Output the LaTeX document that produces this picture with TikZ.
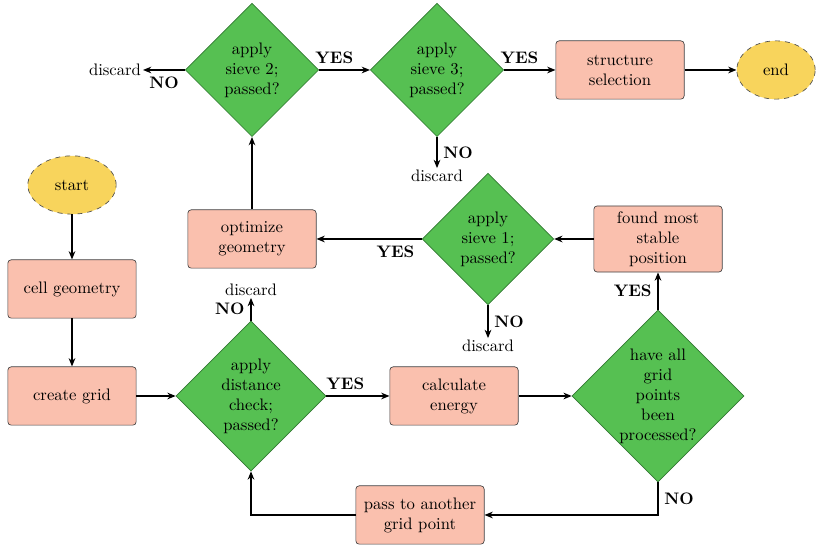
\documentclass[tikz,border=0pt]{standalone}
\usetikzlibrary{shapes.geometric,arrows.meta}
\definecolor{decgreen}{RGB}{86,192,82}
\definecolor{decedge}{RGB}{50,120,50}
\definecolor{procpink}{RGB}{250,192,174}
\definecolor{termyellow}{RGB}{248,212,92}
\begin{document}
\begin{tikzpicture}[x=0.6pt,y=-0.6pt,
  dec/.style={diamond, draw=decedge, fill=decgreen, align=center, inner sep=0pt, minimum width=#1, minimum height=#1},
  proc/.style={rectangle, rounded corners=2pt, draw=black!75, fill=procpink, minimum width=77pt, minimum height=35pt, align=center},
  term/.style={ellipse, dashed, draw=black!70, fill=termyellow, minimum height=35pt, minimum width=#1},
  arr/.style={-{Stealth[length=5pt,width=4pt]}, line width=1.1pt},
  lab/.style={font=\bfseries},
  txt/.style={inner sep=1pt}]
\useasboundingbox (0,0) rectangle (816,548);
% nodes
\node[dec=80pt] (s2) at (252,70) {apply\\sieve 2;\\passed?};
\node[dec=80pt] (s3) at (437,70) {apply\\sieve 3;\\passed?};
\node[proc] (sel) at (620,70) {structure\\selection};
\node[term=47pt] (end) at (776,70) {end};
\node[txt] (dis2) at (115,70) {discard};
\node[txt] (dis3) at (437,176) {discard};
\node[term=53pt] (start) at (72,185) {start};
\node[proc] (cell) at (72,289) {cell geometry};
\node[proc] (grid) at (72,396) {create grid};
\node[proc] (opt) at (252,239) {optimize\\geometry};
\node[dec=79pt] (s1) at (488,239) {apply\\sieve 1;\\passed?};
\node[proc] (found) at (658,239) {found most\\stable\\position};
\node[txt] (dis1) at (488,346) {discard};
\node[dec=90pt] (dist) at (251,396) {apply\\distance\\check;\\passed?};
\node[txt] (dis0) at (251,290) {discard};
\node[proc] (energy) at (454,396) {calculate\\energy};
\node[dec=101pt] (proc) at (658,396) {have all\\grid\\points\\been\\processed?};
\node[proc] (pass) at (420,515) {pass to another\\grid point};
\coordinate (c1) at (658,515);
\coordinate (c2) at (251,515);
% connectors
\draw[arr] (s2.west) -- (dis2.east) node[lab,pos=0.5,below] {NO};
\draw[arr] (s2.east) -- (s3.west) node[lab,pos=0.3,above] {YES};
\draw[arr] (s3.east) -- (sel.west) node[lab,pos=0.3,above] {YES};
\draw[arr] (sel.east) -- (end.west);
\draw[arr] (s3.south) -- (dis3.north) node[lab,midway,right] {NO};
\draw[arr] (start.south) -- (cell.north);
\draw[arr] (cell.south) -- (grid.north);
\draw[arr] (grid.east) -- (dist.west);
\draw[arr] (dist.east) -- (energy.west) node[lab,pos=0.3,above] {YES};
\draw[arr] (energy.east) -- (proc.west);
\draw[arr] (proc.north) -- (found.south) node[lab,midway,left] {YES};
\draw[arr] (found.west) -- (s1.east);
\draw[arr] (s1.west) -- (opt.east) node[lab,pos=0.25,below] {YES};
\draw[arr] (s1.south) -- (dis1.north) node[lab,midway,right] {NO};
\draw[arr] (dist.north) -- (dis0.south) node[lab,midway,left] {NO};
\draw[arr] (opt.north) -- (s2.south);
\draw[arr] (proc.south) -- (c1) node[lab,pos=0.5,right] {NO} -- (pass.east);
\draw[arr] (pass.west) -- (c2) -- (dist.south);
\end{tikzpicture}
\end{document}
